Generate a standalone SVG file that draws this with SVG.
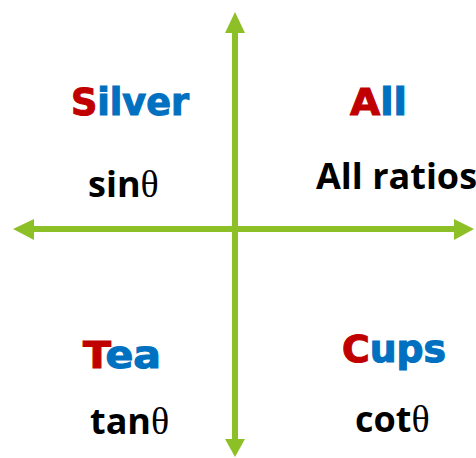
<svg xmlns="http://www.w3.org/2000/svg" width="476" height="458" viewBox="0 0 476 458">
<style>
.ax{stroke:#8DC026;stroke-width:6;fill:none}
.hd{fill:#8DC026}
.lab{font-family:"DejaVu Sans",sans-serif;font-weight:bold;font-size:37px;fill:#0070C0;stroke:#0070C0;stroke-width:1.1}
.r{fill:#C00000;stroke:#C00000}
.fn{font-family:"Open Sans",sans-serif;font-weight:bold;font-size:36px;fill:#000}
.th{font-family:"Liberation Serif",serif;font-weight:normal;font-size:38px}
</style>
<rect width="476" height="458" fill="#fff"/>
<g id="connectors">
<line class="ax" x1="235" y1="30" x2="235" y2="442"/>
<polygon class="hd" points="235,12 225,33 245,33"/>
<polygon class="hd" points="235,457 225,439 245,439"/>
<line class="ax" x1="31" y1="229" x2="457" y2="229"/>
<polygon class="hd" points="13,229 34,219 34,240"/>
<polygon class="hd" points="474,229 454,219 454,240"/>
</g>
<g id="silver"><text class="lab" x="71" y="115" textLength="118" lengthAdjust="spacingAndGlyphs"><tspan class="r">S</tspan>ilver</text>
<text class="fn" x="88" y="197">sin<tspan class="th">θ</tspan></text></g>
<g id="all"><text class="lab" x="350" y="115" textLength="57" lengthAdjust="spacingAndGlyphs"><tspan class="r">A</tspan>ll</text>
<text class="fn" x="316" y="189">All ratios</text></g>
<g id="tea"><text class="lab" x="83" y="368" textLength="78" lengthAdjust="spacingAndGlyphs"><tspan class="r">T</tspan>ea</text>
<text class="fn" x="90" y="434">tan<tspan class="th">θ</tspan></text></g>
<g id="cups"><text class="lab" x="342" y="362" textLength="104" lengthAdjust="spacingAndGlyphs"><tspan class="r">C</tspan>ups</text>
<text class="fn" x="355" y="432">cot<tspan class="th">θ</tspan></text></g>
</svg>
